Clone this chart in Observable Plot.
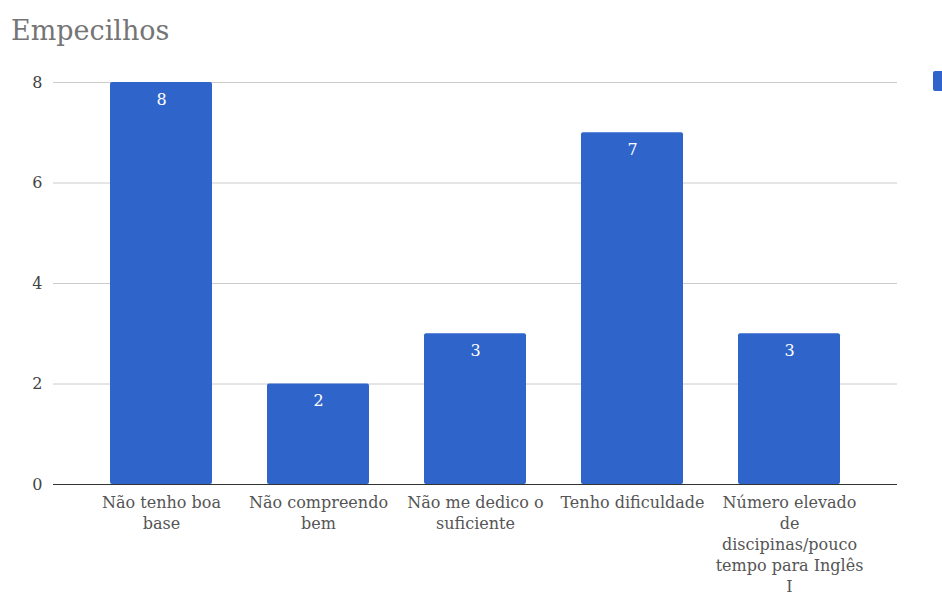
<!DOCTYPE html>
<html>
<head>
<meta charset="utf-8">
<script src="https://cdn.jsdelivr.net/npm/d3@7"></script>
<script src="https://cdn.jsdelivr.net/npm/@observablehq/plot@0.6"></script>
<style>
  html, body { margin: 0; padding: 0; background: #fff; }
  #wrap { position: relative; width: 942px; height: 592px; overflow: hidden; }
  #title { position: relative; height: 50px; }
  #title span {
    position: absolute; left: 11px; top: 14px;
    font-family: "DejaVu Serif", serif;
    font-size: 27px; line-height: 33px;
    color: #757575;
  }
  #swatch {
    position: absolute; left: 933px; top: 71px; width: 14px; height: 20px;
    background: #2f64ca; border-radius: 2px;
  }
  svg { display: block; }
</style>
</head>
<body>
<div id="wrap">
  <div id="title"><span>Empecilhos</span></div>
  <div id="swatch"></div>
  <div id="chart"></div>
</div>
<script>
// Reasons given as obstacles, and how many people chose each
const categories = [
  "Não tenho boa base",
  "Não compreendo bem",
  "Não me dedico o suficiente",
  "Tenho dificuldade",
  "Número elevado de discipinas/pouco tempo para Inglês I"
];
const counts = [8, 2, 3, 7, 3];
// Axis labels, wrapped onto lines
const tickLabels = [
  "Não tenho boa\nbase",
  "Não compreendo\nbem",
  "Não me dedico o\nsuficiente",
  "Tenho dificuldade",
  "Número elevado\nde\ndiscipinas/pouco\ntempo para Inglês\nI"
];
const yTicks = [0, 2, 4, 6, 8];

const data = categories.map((c, i) => ({category: c, count: counts[i]}));
const labelOf = new Map(categories.map((c, i) => [c, tickLabels[i]]));

const font = "DejaVu Serif";
const blue = "#2f64ca";

const chart = Plot.plot({
  width: 942,
  height: 542,
  marginTop: 32,
  marginBottom: 108,
  marginLeft: 53,
  marginRight: 45,
  style: {fontFamily: font, background: "#fff", overflow: "visible"},
  x: {domain: categories, padding: 0.35, label: null},
  y: {domain: [0, 8], label: null},
  marks: [
    Plot.gridY(yTicks, {stroke: "#cccccc", strokeOpacity: 1}),
    Plot.axisY(yTicks, {
      tickSize: 0, tickPadding: 11, fontSize: 16, fill: "#444",
      label: null, tickFormat: d => String(d)
    }),
    Plot.axisX({
      tickSize: 0, tickPadding: 9, fontSize: 16, fill: "#555",
      lineHeight: 1.31, label: null,
      tickFormat: d => labelOf.get(d)
    }),
    Plot.barY(data, {x: "category", y: "count", fill: blue, rx: 2}),
    Plot.ruleY([0], {stroke: "#333", strokeWidth: 1.2}),
    Plot.text(data, {
      x: "category", y: "count", text: d => String(d.count),
      dy: 17, fill: "#fff", fontSize: 16
    })
  ]
});
document.getElementById("chart").appendChild(chart);
</script>
</body>
</html>
